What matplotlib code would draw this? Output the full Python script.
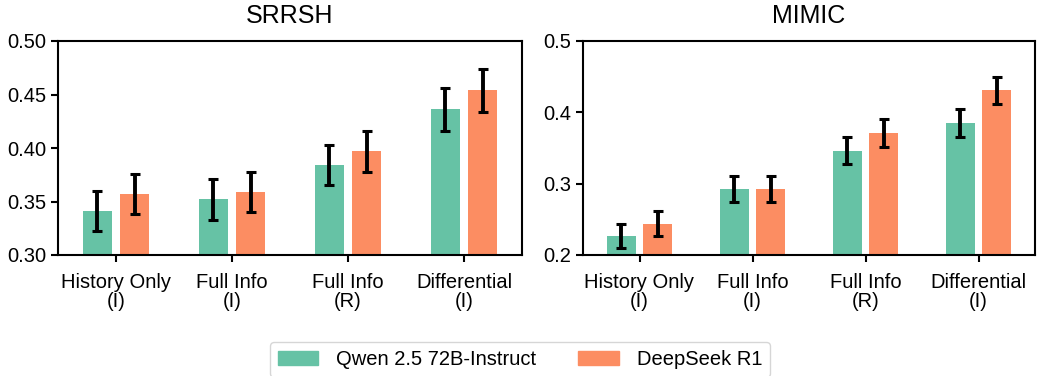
import matplotlib

matplotlib.use("Agg")
import matplotlib.pyplot as plt
import numpy as np
from matplotlib.patches import Patch

plt.rcParams["font.family"] = ["Liberation Sans", "DejaVu Sans"]

categories = ["History Only\n(I)", "Full Info\n(I)", "Full Info\n(R)", "Differential\n(I)"]
models = ["Qwen 2.5 72B-Instruct", "DeepSeek R1"]
colors = ["#66c2a5", "#fc8d62"]

srrsh_qwen = [0.341, 0.352, 0.384, 0.436]
srrsh_qwen_err = [0.019, 0.019, 0.019, 0.020]
srrsh_ds = [0.357, 0.359, 0.397, 0.454]
srrsh_ds_err = [0.019, 0.019, 0.019, 0.020]

mimic_qwen = [0.227, 0.293, 0.346, 0.385]
mimic_qwen_err = [0.017, 0.018, 0.019, 0.019]
mimic_ds = [0.244, 0.293, 0.371, 0.431]
mimic_ds_err = [0.017, 0.018, 0.019, 0.019]


def _panel(ax, title, qwen, qwen_err, ds, ds_err, ylim, yticks, fmt):
    x = np.arange(len(categories))
    width = 0.25
    off = 0.16
    err_kw = dict(ecolor="black", elinewidth=2.8, capsize=3.6, capthick=2.2)
    ax.bar(x - off, qwen, width, yerr=qwen_err, color=colors[0], error_kw=err_kw)
    ax.bar(x + off, ds, width, yerr=ds_err, color=colors[1], error_kw=err_kw)
    ax.set_xticks(x)
    ax.set_xticklabels(categories, fontsize=14.5, linespacing=1.0)
    ax.set_xlim(-0.5, 3.5)
    ax.set_ylim(*ylim)
    ax.set_yticks(yticks)
    ax.set_yticklabels([fmt % v for v in yticks], fontsize=14.5)
    ax.set_title(title, fontsize=18, pad=13)
    for s in ax.spines.values():
        s.set_linewidth(1.5)
    ax.tick_params(width=1.5, length=5)
    ax.tick_params(axis="x", pad=8)


fig = plt.figure(figsize=(10.4, 3.76), dpi=100)
ax1 = fig.add_axes([58 / 1040, 1 - 255 / 376, 464 / 1040, 214 / 376])
ax2 = fig.add_axes([583 / 1040, 1 - 255 / 376, 452 / 1040, 214 / 376])

_panel(ax1, "SRRSH", srrsh_qwen, srrsh_qwen_err, srrsh_ds, srrsh_ds_err,
       (0.30, 0.50), [0.30, 0.35, 0.40, 0.45, 0.50], "%.2f")
_panel(ax2, "MIMIC", mimic_qwen, mimic_qwen_err, mimic_ds, mimic_ds_err,
       (0.2, 0.5), [0.2, 0.3, 0.4, 0.5], "%.1f")

handles = [Patch(color=c, label=m) for c, m in zip(colors, models)]
fig.legend(handles=handles, loc="lower center", ncol=2, fontsize=14.5,
           bbox_to_anchor=(0.5, -0.03), frameon=True, handlelength=2.0,
           handletextpad=0.9, columnspacing=2.1)

fig.savefig("out.png", dpi=100)
